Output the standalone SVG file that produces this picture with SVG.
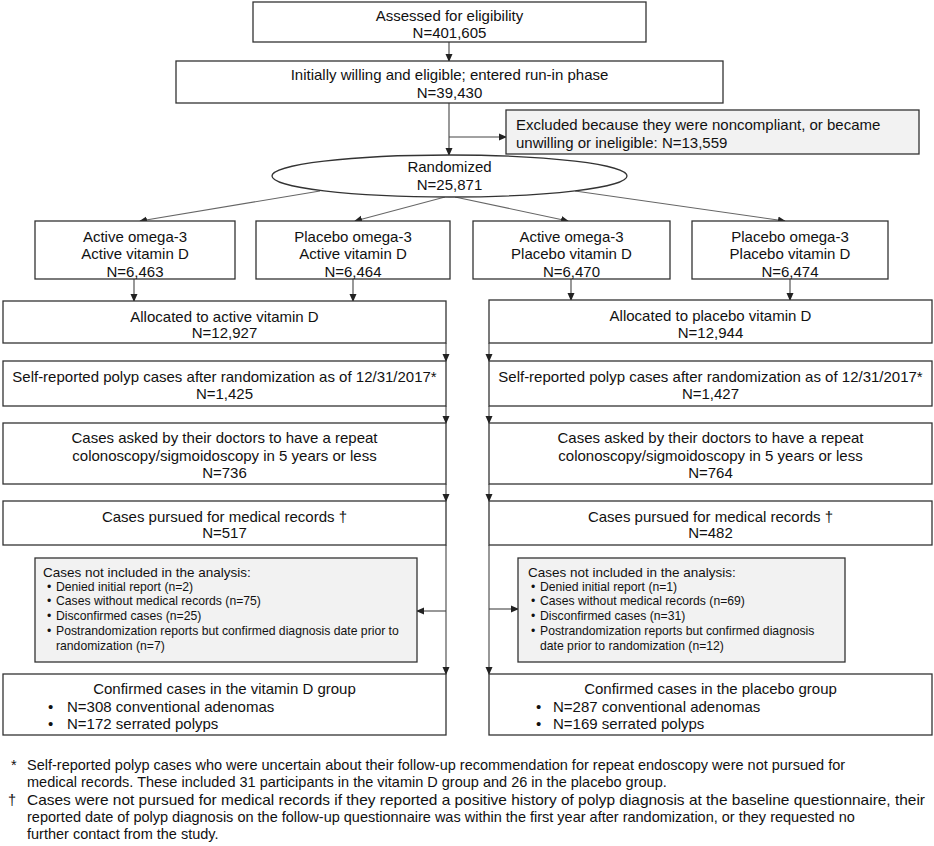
<svg xmlns="http://www.w3.org/2000/svg" width="934" height="846" viewBox="0 0 934 846">
<defs>
<marker id="ah" markerWidth="8" markerHeight="8" refX="7" refY="4" orient="auto" markerUnits="userSpaceOnUse">
<path d="M0,0.5 L8,4 L0,7.5 Z" fill="#222"/>
</marker>
<style>
.box{fill:#fff;stroke:#333;stroke-width:1.3}
.gbox{fill:#f2f2f2;stroke:#333;stroke-width:1.3}
.t{font-family:"Liberation Sans",Arial,sans-serif;font-size:15px;fill:#111;text-anchor:middle}
.tl{font-family:"Liberation Sans",Arial,sans-serif;font-size:15px;fill:#111}
.h{font-family:"Liberation Sans",Arial,sans-serif;font-size:13.5px;fill:#111}
.s{font-family:"Liberation Sans",Arial,sans-serif;font-size:12.2px;fill:#111}
.f{font-family:"Liberation Sans",Arial,sans-serif;font-size:14.5px;fill:#111}
.c{fill:none;stroke:#444;stroke-width:1.1;marker-end:url(#ah)}
.cg{fill:none;stroke:#666;stroke-width:1.1;marker-end:url(#ah)}
</style>
</defs>
<rect width="934" height="846" fill="#fff"/>

<g id="connectors">
<line class="c" x1="449" y1="42" x2="449" y2="61"/>
<line class="c" x1="449" y1="103" x2="449" y2="155"/>
<line class="c" x1="449" y1="137" x2="506" y2="137"/>
<line class="cg" x1="320" y1="191" x2="140" y2="221"/>
<line class="cg" x1="445" y1="197" x2="355" y2="221"/>
<line class="cg" x1="455" y1="197" x2="568" y2="221"/>
<line class="cg" x1="575" y1="191" x2="785" y2="221"/>
<line class="c" x1="134" y1="279" x2="134" y2="301"/>
<line class="c" x1="353" y1="279" x2="353" y2="301"/>
<line class="c" x1="571" y1="279" x2="571" y2="300"/>
<line class="c" x1="790" y1="279" x2="790" y2="300"/>
<line class="c" x1="446" y1="343" x2="446" y2="361"/>
<line class="c" x1="446" y1="406" x2="446" y2="423"/>
<line class="c" x1="446" y1="484" x2="446" y2="501"/>
<line class="c" x1="446" y1="545" x2="446" y2="674"/>
<line class="c" x1="446" y1="611" x2="417" y2="611"/>
<line class="c" x1="489" y1="343" x2="489" y2="361"/>
<line class="c" x1="489" y1="406" x2="489" y2="423"/>
<line class="c" x1="489" y1="484" x2="489" y2="501"/>
<line class="c" x1="489" y1="545" x2="489" y2="674"/>
<line class="c" x1="489" y1="609" x2="518" y2="609"/>
</g>

<g id="assessed">
<rect class="box" x="253" y="2" width="393" height="40"/>
<text class="t" x="449.5" y="21">Assessed for eligibility</text>
<text class="t" x="449.5" y="38">N=401,605</text>
</g>

<g id="runin">
<rect class="box" x="176" y="61" width="547" height="42"/>
<text class="t" x="449.5" y="80">Initially willing and eligible; entered run-in phase</text>
<text class="t" x="449.5" y="98">N=39,430</text>
</g>

<g id="excluded">
<rect class="gbox" x="506" y="110" width="413" height="44"/>
<text class="tl" x="516" y="130">Excluded because they were noncompliant, or became</text>
<text class="tl" x="516" y="148">unwilling or ineligible: N=13,559</text>
</g>

<g id="randomized">
<ellipse class="box" cx="449.5" cy="176" rx="177.5" ry="21"/>
<text class="t" x="449.5" y="172">Randomized</text>
<text class="t" x="449.5" y="190">N=25,871</text>
</g>

<g id="armA">
<rect class="box" x="35" y="221" width="200" height="58"/>
<text class="t" x="135" y="242">Active omega-3</text>
<text class="t" x="135" y="259">Active vitamin D</text>
<text class="t" x="135" y="277">N=6,463</text>
</g>
<g id="armB">
<rect class="box" x="256" y="221" width="194" height="58"/>
<text class="t" x="353" y="242">Placebo omega-3</text>
<text class="t" x="353" y="259">Active vitamin D</text>
<text class="t" x="353" y="277">N=6,464</text>
</g>
<g id="armC">
<rect class="box" x="473" y="221" width="197" height="58"/>
<text class="t" x="571.5" y="242">Active omega-3</text>
<text class="t" x="571.5" y="259">Placebo vitamin D</text>
<text class="t" x="571.5" y="277">N=6,470</text>
</g>
<g id="armD">
<rect class="box" x="692" y="221" width="196" height="58"/>
<text class="t" x="790" y="242">Placebo omega-3</text>
<text class="t" x="790" y="259">Placebo vitamin D</text>
<text class="t" x="790" y="277">N=6,474</text>
</g>

<g id="allocActive">
<rect class="box" x="3" y="301" width="443" height="42"/>
<text class="t" x="224.5" y="322">Allocated to active vitamin D</text>
<text class="t" x="224.5" y="338">N=12,927</text>
</g>
<g id="allocPlacebo">
<rect class="box" x="489" y="300" width="443" height="43"/>
<text class="t" x="710.5" y="321">Allocated to placebo vitamin D</text>
<text class="t" x="710.5" y="338">N=12,944</text>
</g>

<g id="selfActive">
<rect class="box" x="3" y="361" width="443" height="45"/>
<text class="t" x="224.5" y="382">Self-reported polyp cases after randomization as of 12/31/2017*</text>
<text class="t" x="224.5" y="399">N=1,425</text>
</g>
<g id="selfPlacebo">
<rect class="box" x="489" y="361" width="443" height="45"/>
<text class="t" x="710.5" y="382">Self-reported polyp cases after randomization as of 12/31/2017*</text>
<text class="t" x="710.5" y="399">N=1,427</text>
</g>

<g id="askedActive">
<rect class="box" x="3" y="423" width="443" height="61"/>
<text class="t" x="224.5" y="443">Cases asked by their doctors to have a repeat</text>
<text class="t" x="224.5" y="461">colonoscopy/sigmoidoscopy in 5 years or less</text>
<text class="t" x="224.5" y="478">N=736</text>
</g>
<g id="askedPlacebo">
<rect class="box" x="489" y="423" width="443" height="61"/>
<text class="t" x="710.5" y="443">Cases asked by their doctors to have a repeat</text>
<text class="t" x="710.5" y="461">colonoscopy/sigmoidoscopy in 5 years or less</text>
<text class="t" x="710.5" y="478">N=764</text>
</g>

<g id="pursuedActive">
<rect class="box" x="3" y="501" width="443" height="44"/>
<text class="t" x="224.5" y="522">Cases pursued for medical records †</text>
<text class="t" x="224.5" y="538">N=517</text>
</g>
<g id="pursuedPlacebo">
<rect class="box" x="489" y="501" width="443" height="44"/>
<text class="t" x="710.5" y="522">Cases pursued for medical records †</text>
<text class="t" x="710.5" y="538">N=482</text>
</g>

<g id="notIncludedActive">
<rect class="gbox" x="35" y="558" width="382" height="104"/>
<text class="h" x="43" y="577">Cases not included in the analysis:</text>
<text class="s" x="47" y="591">•</text><text class="s" x="56" y="591">Denied initial report (n=2)</text>
<text class="s" x="47" y="605">•</text><text class="s" x="56" y="605">Cases without medical records (n=75)</text>
<text class="s" x="47" y="620">•</text><text class="s" x="56" y="620">Disconfirmed cases (n=25)</text>
<text class="s" x="47" y="635">•</text><text class="s" x="56" y="635">Postrandomization reports but confirmed diagnosis date prior to</text>
<text class="s" x="56" y="650">randomization (n=7)</text>
</g>
<g id="notIncludedPlacebo">
<rect class="gbox" x="518" y="558" width="327" height="104"/>
<text class="h" x="528" y="577">Cases not included in the analysis:</text>
<text class="s" x="531" y="591">•</text><text class="s" x="540" y="591">Denied initial report (n=1)</text>
<text class="s" x="531" y="605">•</text><text class="s" x="540" y="605">Cases without medical records (n=69)</text>
<text class="s" x="531" y="620">•</text><text class="s" x="540" y="620">Disconfirmed cases (n=31)</text>
<text class="s" x="531" y="635">•</text><text class="s" x="540" y="635">Postrandomization reports but confirmed diagnosis</text>
<text class="s" x="540" y="650">date prior to randomization (n=12)</text>
</g>

<g id="confirmedActive">
<rect class="box" x="3" y="674" width="443" height="61"/>
<text class="t" x="224.5" y="694">Confirmed cases in the vitamin D group</text>
<text class="tl" x="48" y="712">•</text><text class="tl" x="67" y="712">N=308 conventional adenomas</text>
<text class="tl" x="48" y="729">•</text><text class="tl" x="67" y="729">N=172 serrated polyps</text>
</g>
<g id="confirmedPlacebo">
<rect class="box" x="489" y="674" width="443" height="61"/>
<text class="t" x="710.5" y="694">Confirmed cases in the placebo group</text>
<text class="tl" x="536" y="712">•</text><text class="tl" x="553" y="712">N=287 conventional adenomas</text>
<text class="tl" x="536" y="729">•</text><text class="tl" x="553" y="729">N=169 serrated polyps</text>
</g>

<g id="footnotes">
<text class="f" x="11" y="770">*</text>
<text class="f" x="27" y="770">Self-reported polyp cases who were uncertain about their follow-up recommendation for repeat endoscopy were not pursued for</text>
<text class="f" x="27" y="787">medical records. These included 31 participants in the vitamin D group and 26 in the placebo group.</text>
<text class="f" x="8" y="805">†</text>
<text class="f" x="27" y="805" textLength="898" lengthAdjust="spacingAndGlyphs">Cases were not pursued for medical records if they reported a positive history of polyp diagnosis at the baseline questionnaire, their</text>
<text class="f" x="27" y="822">reported date of polyp diagnosis on the follow-up questionnaire was within the first year after randomization, or they requested no</text>
<text class="f" x="27" y="839">further contact from the study.</text>
</g>
</svg>
